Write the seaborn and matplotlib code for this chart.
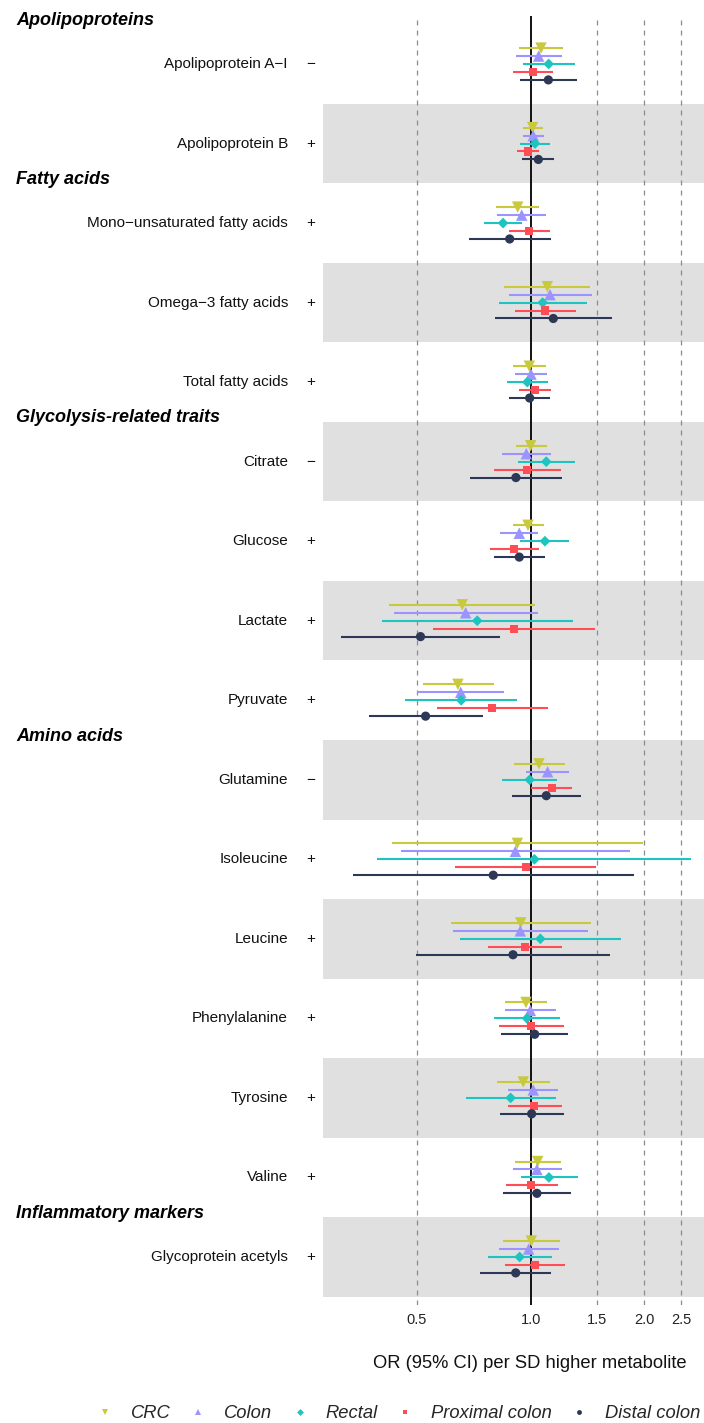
import numpy as np
import pandas as pd
import matplotlib
matplotlib.use("Agg")
import matplotlib.pyplot as plt
import matplotlib.transforms as mtransforms
from matplotlib.lines import Line2D
import seaborn as sns

# ---------------- data ----------------
metabolites = ["Apolipoprotein A\u2212I", "Apolipoprotein B", "Mono\u2212unsaturated fatty acids",
               "Omega\u22123 fatty acids", "Total fatty acids", "Citrate", "Glucose", "Lactate",
               "Pyruvate", "Glutamine", "Isoleucine", "Leucine", "Phenylalanine", "Tyrosine",
               "Valine", "Glycoprotein acetyls"]
signs = ["\u2212", "+", "+", "+", "+", "\u2212", "+", "+", "+", "\u2212", "+", "+", "+", "+", "+", "+"]
group_names = ["Apolipoproteins", "Fatty acids", "Glycolysis-related traits", "Amino acids",
               "Inflammatory markers"]
group_first = ["Apolipoprotein A\u2212I", "Mono\u2212unsaturated fatty acids", "Citrate",
               "Glutamine", "Glycoprotein acetyls"]

outcomes = ["CRC", "Colon", "Rectal", "Proximal colon", "Distal colon"]

crc_or = [1.065, 1.012, 0.924, 1.107, 0.992, 1.000, 0.984, 0.659, 0.642, 1.052, 0.922, 0.941, 0.972, 0.956, 1.044, 1.004]
crc_lo = [0.933, 0.954, 0.810, 0.850, 0.900, 0.913, 0.896, 0.422, 0.519, 0.903, 0.429, 0.617, 0.857, 0.814, 0.911, 0.845]
crc_hi = [1.220, 1.080, 1.054, 1.440, 1.100, 1.107, 1.085, 1.027, 0.798, 1.233, 1.984, 1.445, 1.105, 1.125, 1.203, 1.193]

colon_or = [1.050, 1.016, 0.947, 1.125, 1.002, 0.974, 0.933, 0.673, 0.653, 1.109, 0.911, 0.939, 0.998, 1.016, 1.039, 0.988]
colon_lo = [0.914, 0.956, 0.814, 0.876, 0.911, 0.841, 0.831, 0.434, 0.500, 0.972, 0.454, 0.623, 0.857, 0.873, 0.900, 0.824]
colon_hi = [1.210, 1.082, 1.100, 1.450, 1.105, 1.130, 1.048, 1.046, 0.848, 1.263, 1.829, 1.419, 1.165, 1.181, 1.208, 1.189]

rectal_or = [1.116, 1.027, 0.845, 1.076, 0.980, 1.100, 1.091, 0.722, 0.655, 0.994, 1.023, 1.061, 0.978, 0.885, 1.118, 0.935]
rectal_lo = [0.956, 0.939, 0.754, 0.824, 0.866, 0.926, 0.937, 0.404, 0.466, 0.841, 0.393, 0.651, 0.801, 0.674, 0.943, 0.769]
rectal_hi = [1.310, 1.123, 0.950, 1.407, 1.111, 1.310, 1.263, 1.292, 0.918, 1.174, 2.664, 1.735, 1.193, 1.167, 1.332, 1.141]

prox_or = [1.012, 0.984, 0.992, 1.094, 1.027, 0.978, 0.903, 0.903, 0.792, 1.137, 0.970, 0.966, 1.004, 1.023, 1.004, 1.027]
prox_lo = [0.898, 0.920, 0.876, 0.909, 0.933, 0.800, 0.779, 0.552, 0.564, 1.002, 0.632, 0.769, 0.824, 0.869, 0.859, 0.857]
prox_hi = [1.148, 1.052, 1.123, 1.318, 1.130, 1.200, 1.050, 1.483, 1.111, 1.289, 1.489, 1.210, 1.228, 1.208, 1.181, 1.233]

dist_or = [1.114, 1.048, 0.880, 1.148, 0.994, 0.914, 0.933, 0.511, 0.527, 1.100, 0.796, 0.898, 1.025, 1.006, 1.039, 0.913]
dist_lo = [0.935, 0.950, 0.685, 0.805, 0.876, 0.692, 0.801, 0.315, 0.374, 0.892, 0.339, 0.498, 0.836, 0.831, 0.846, 0.736]
dist_hi = [1.330, 1.155, 1.130, 1.642, 1.127, 1.208, 1.089, 0.829, 0.746, 1.359, 1.874, 1.619, 1.258, 1.223, 1.276, 1.130]

x_ticks = [0.5, 1.0, 1.5, 2.0, 2.5]
x_ticklabels = ["0.5", "1.0", "1.5", "2.0", "2.5"]

# ---------------- styles ----------------
colors = {"CRC": "#C9C93E", "Colon": "#9B94FF", "Rectal": "#1EC4C0",
          "Proximal colon": "#FF4D55", "Distal colon": "#2D3856"}
markers = {"CRC": "v", "Colon": "^", "Rectal": "D", "Proximal colon": "s", "Distal colon": "o"}
sizes = {"CRC": 68, "Colon": 68, "Rectal": 30, "Proximal colon": 34, "Distal colon": 44}
offsets = {"CRC": -0.2, "Colon": -0.1, "Rectal": 0.0, "Proximal colon": 0.1, "Distal colon": 0.2}

series = {"CRC": (crc_or, crc_lo, crc_hi), "Colon": (colon_or, colon_lo, colon_hi),
          "Rectal": (rectal_or, rectal_lo, rectal_hi), "Proximal colon": (prox_or, prox_lo, prox_hi),
          "Distal colon": (dist_or, dist_lo, dist_hi)}

rows = []
for o in outcomes:
    orv, lo, hi = series[o]
    for i, m in enumerate(metabolites):
        rows.append({"metabolite": m, "row": i, "outcome": o, "OR": orv[i], "lo": lo[i], "hi": hi[i]})
df = pd.DataFrame(rows)
df["y"] = df["row"] + df["outcome"].map(offsets)

sns.set_theme(style="white")
plt.rcParams["font.family"] = ["Liberation Sans", "DejaVu Sans"]

W, H = 704, 1423
fig = plt.figure(figsize=(W / 100, H / 100), dpi=100)
ax_l, ax_r, ax_t, ax_b = 323, 704, 16, 1305
ax = fig.add_axes([ax_l / W, 1 - ax_b / H, (ax_r - ax_l) / W, (ax_b - ax_t) / H])

n = len(metabolites)
# alternating bands
for i in range(n):
    if i % 2 == 1:
        ax.axhspan(i - 0.5, i + 0.5, color="#E0E0E0", zorder=0, lw=0)

for xv in [0.5, 1.5, 2.0, 2.5]:
    ax.axvline(xv, color="#8c8c8c", lw=0.9, ls=(0, (4, 4)), zorder=1)
ax.axvline(1.0, color="#111111", lw=1.4, zorder=1.5)

for o in outcomes:
    d = df[df["outcome"] == o]
    ax.hlines(d["y"], d["lo"], d["hi"], color=colors[o], lw=1.5, zorder=2)
    sns.scatterplot(data=d, x="OR", y="y", marker=markers[o], s=sizes[o], color=colors[o],
                    edgecolor="none", linewidth=0, ax=ax, zorder=3, legend=False)

ax.set_xscale("log")
ax.set_xlim(0.282, 2.877)
ax.set_ylim(15.604, -0.6035)
ax.set_xticks(x_ticks)
ax.set_xticklabels(x_ticklabels)
ax.xaxis.set_minor_locator(matplotlib.ticker.NullLocator())
ax.set_yticks([])
ax.tick_params(axis="x", length=0, pad=6, labelsize=10.5, labelcolor="#222222")
ax.set_ylabel("")
ax.set_xlabel("OR (95% CI) per SD higher metabolite", fontsize=13.2, color="#111111")
ax.xaxis.set_label_coords((530 - ax_l) / (ax_r - ax_l), -(1363 - ax_b) / (ax_b - ax_t))
ax.xaxis.label.set_va("center")
for sp in ax.spines.values():
    sp.set_visible(False)

trans = mtransforms.blended_transform_factory(fig.transFigure, ax.transData)
for i, (m, s) in enumerate(zip(metabolites, signs)):
    ax.text(288 / W, i, m, transform=trans, ha="right", va="center", fontsize=11, color="#111111")
    ax.text(311 / W, i, s, transform=trans, ha="center", va="center", fontsize=11, color="#111111")
for g, first in zip(group_names, group_first):
    i = metabolites.index(first)
    ax.text(16 / W, i - 0.55, g, transform=trans, ha="left", va="center", fontsize=13,
            fontweight="bold", fontstyle="italic", color="#000000")

handles = [Line2D([], [], marker=markers[o], color=colors[o], linestyle="none",
                  markersize=4.5 if markers[o] in "v^" else 3.5, markeredgewidth=0) for o in outcomes]
leg = fig.legend(handles, outcomes, loc="center", bbox_to_anchor=(400 / W, 1 - 1414 / H), ncol=5,
                 frameon=False, handlelength=0.6, handletextpad=1.1, columnspacing=1.2,
                 prop={"size": 13.2, "style": "italic"})

fig.savefig("out.png", dpi=100)
